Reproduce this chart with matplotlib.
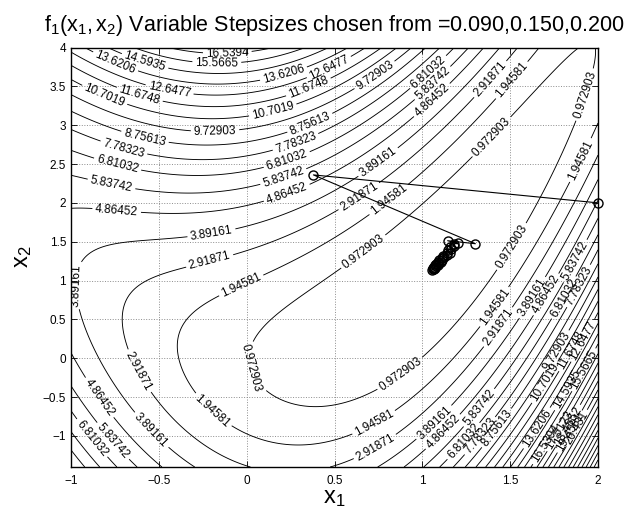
import numpy as np
import matplotlib
matplotlib.use("Agg")
import matplotlib.pyplot as plt

plt.rcParams['font.family'] = ['Liberation Sans', 'DejaVu Sans']
plt.rcParams['mathtext.fontset'] = 'custom'
plt.rcParams['mathtext.rm'] = 'Liberation Sans'
plt.rcParams['mathtext.it'] = 'Liberation Sans'

# ---- data ----
x1_range = [-1.0, 2.0]
x2_range = [-1.4, 4.0]
n_levels = 30
z_max = 30.16          # f at (2, -1.4); min is 0 at (1, 1)

# gradient-descent iterates (x1, x2)
traj_x1 = [2.000, 0.380, 1.302, 1.144, 1.202, 1.179, 1.183, 1.156, 1.166, 1.148,
           1.155, 1.138, 1.138, 1.116, 1.124, 1.111, 1.114, 1.097, 1.104, 1.088,
           1.095, 1.080, 1.087, 1.073, 1.079, 1.067, 1.071, 1.061, 1.066, 1.058,
           1.056]
traj_x2 = [2.000, 2.360, 1.474, 1.513, 1.477, 1.471, 1.439, 1.427, 1.411, 1.390,
           1.361, 1.356, 1.332, 1.318, 1.305, 1.288, 1.267, 1.259, 1.243, 1.236,
           1.220, 1.214, 1.200, 1.194, 1.181, 1.176, 1.165, 1.159, 1.146, 1.144,
           1.134]

xticks = [-1, -0.5, 0, 0.5, 1, 1.5, 2]
yticks = [-1, -0.5, 0, 0.5, 1, 1.5, 2, 2.5, 3, 3.5, 4]
title = r"$\mathregular{f_1(x_1,x_2)}$ Variable Stepsizes chosen from =0.090,0.150,0.200"


def f1(a, b):
    return (b - a**2)**2 + (1 - a)**2


# approximate label positions per level index (1-based)
label_pos = {
    1: [(1.93, 3.39), (1.40, 2.84), (0.64, 1.44), (1.50, 1.45), (0.03, -0.12), (0.87, -0.20)],
    2: [(1.49, 3.61), (1.90, 2.55), (0.81, 2.03), (-0.03, 0.91), (-0.18, -0.65), (1.42, 0.65), (0.72, -0.81)],
    3: [(1.36, 3.64), (0.64, 2.07), (-0.21, 1.22), (-0.61, -0.16), (1.46, 0.35), (0.72, -1.10)],
    4: [(0.75, 2.51), (-0.20, 1.62), (-0.96, 0.94), (-0.54, -0.91), (1.63, 0.78), (1.04, -0.77)],
    5: [(-0.74, 1.88), (0.22, 2.16), (1.04, 3.35), (-0.84, -0.51), (1.70, 0.83), (1.11, -0.93)],
    6: [(-0.77, 2.22), (0.20, 2.38), (1.06, 3.54), (-0.74, -1.03), (1.88, 1.24), (1.32, -0.63)],
    7: [(-0.74, 2.46), (0.22, 2.59), (1.04, 3.67), (-0.88, -1.03), (1.82, 0.76), (1.23, -1.06)],
    8: [(-0.70, 2.70), (0.28, 2.78), (1.91, 0.91), (1.31, -0.97)],
    9: [(-0.58, 2.81), (0.37, 2.97), (1.42, -0.89)],
    10: [(-0.18, 2.91), (0.75, 3.58), (1.76, 0.10)],
    11: [(-0.81, 3.39), (0.15, 3.19), (1.68, -0.29)],
    12: [(-0.61, 3.36), (0.36, 3.45), (1.85, 0.10)],
    13: [(-0.44, 3.45), (0.44, 3.88), (1.91, 0.23)],
    14: [(-0.74, 3.83), (0.21, 3.67), (1.65, -0.89)],
    15: [(-0.58, 3.80), (1.84, -0.42)],
    16: [(-0.17, 3.79), (1.93, -0.16)],
    17: [(-0.11, 3.92), (1.68, -1.06)],
    18: [(1.80, -0.95)],
    19: [(1.85, -0.90)],
    20: [(1.88, -1.00)],
    21: [(1.92, -0.95)],
}

# ---- figure ----
W, H = 636, 512
fig = plt.figure(figsize=(W / 100, H / 100), dpi=100)
ax = fig.add_axes([71 / W, 1 - 467 / H, (598 - 71) / W, (467 - 47.5) / H])

gx = np.linspace(x1_range[0], x1_range[1], 301)
gy = np.linspace(x2_range[0], x2_range[1], 541)
GX, GY = np.meshgrid(gx, gy)
Z = f1(GX, GY)
levels = np.arange(1, n_levels + 1) * z_max / (n_levels + 1)

cs = ax.contour(GX, GY, Z, levels=levels, colors='k', linewidths=0.65)

# snap each requested label position onto its own level's contour
yscale = 77.6 / 175.7  # data units -> screen aspect
snapped = []
for k, pts in label_pos.items():
    segs = cs.allsegs[k - 1]
    if not segs:
        continue
    verts = np.vstack(segs)
    for (px, py) in pts:
        d = (verts[:, 0] - px) ** 2 + ((verts[:, 1] - py) * yscale) ** 2
        snapped.append(tuple(verts[np.argmin(d)]))

fmt = lambda v: f"{v:.6g}"
cs.clabel(manual=snapped, inline=True, inline_spacing=3, fmt=fmt, fontsize=8.5)

ax.plot(traj_x1, traj_x2, '-o', color='k', lw=0.8, ms=6.5,
        mfc='none', mec='k', mew=1.0, clip_on=False, zorder=5)

ax.set_xlim(x1_range)
ax.set_ylim(x2_range)
ax.set_xticks(xticks)
ax.set_yticks(yticks)
ax.set_xticklabels([f"{t:g}".replace('-', '\u2212') for t in xticks])
ax.set_yticklabels([f"{t:g}".replace('-', '\u2212') for t in yticks])
ax.tick_params(direction='in', top=True, right=True, length=4, width=0.6,
               labelsize=8.5)
ax.tick_params(axis='x', pad=6)
ax.grid(True, linestyle=':', color='0.55', linewidth=0.7)
for s in ax.spines.values():
    s.set_linewidth(1.0)

ax.set_title(title, fontsize=15.5, pad=12)
ax.set_xlabel(r"$\mathregular{x_1}$", fontsize=17, labelpad=0)
ax.set_ylabel(r"$\mathregular{x_2}$", fontsize=17, labelpad=6)

fig.savefig("out.png", dpi=100)
